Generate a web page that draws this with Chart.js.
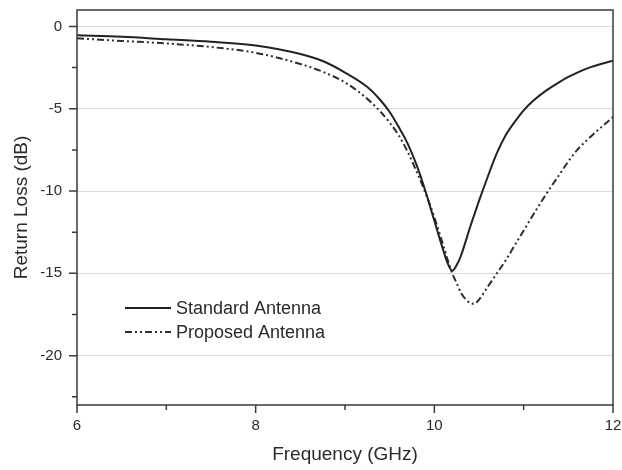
<!DOCTYPE html>
<html>
<head>
<meta charset="utf-8">
<script src="https://cdn.jsdelivr.net/npm/chart.js@4"></script>
<style>
  body { margin: 0; background: #fff; }
  #wrap { width: 622px; height: 470px; }
</style>
</head>
<body>
<div id="wrap"><canvas id="myChart" width="622" height="470"></canvas></div>
<script>
// frequency samples (GHz)
var freq = [6, 6.5, 7, 7.5, 8, 8.5, 8.75, 9, 9.25, 9.4, 9.5, 9.6, 9.7, 9.8, 9.9, 10, 10.1, 10.15, 10.2, 10.25,
            10.3, 10.4, 10.45, 10.5, 10.6, 10.7, 10.8, 10.9, 11, 11.1, 11.25, 11.4, 11.5, 11.6, 11.75, 12];
var standardLoss = [-0.54, -0.63, -0.78, -0.93, -1.15, -1.67, -2.1, -2.8, -3.68, -4.5, -5.2, -6.1, -7.1, -8.4, -10.0,
                    -11.8, -13.6, -14.4, -14.85, -14.5, -13.9, -12.2, -11.4, -10.6, -9.1, -7.7, -6.6, -5.8, -5.1,
                    -4.55, -3.9, -3.38, -3.07, -2.8, -2.47, -2.08];
var proposedLoss = [-0.72, -0.88, -1.03, -1.25, -1.6, -2.28, -2.75, -3.4, -4.4, -5.2, -5.85, -6.6, -7.6, -8.8, -10.1,
                    -11.6, -13.3, -14.2, -15.0, -15.6, -16.2, -16.8, -16.85, -16.6, -15.8, -15.0, -14.2, -13.3, -12.4,
                    -11.5, -10.2, -9.0, -8.2, -7.5, -6.7, -5.5];
var seriesNames = ['Standard Antenna', 'Proposed Antenna'];
var xTicks = [6, 8, 10, 12];
var xMinor = [7, 9, 11];
var yTicks = [0, -5, -10, -15, -20];
var yMinor = [-2.5, -7.5, -12.5, -17.5, -22.5];

function pts(ys) {
    return freq.map(function (f, i) { return {x: f, y: ys[i]}; });
}

var axisColor = '#3a3a3a';
var textColor = '#2a2a2a';
var fontFam = '"Liberation Sans", Arial, sans-serif';

// box round the plot, outward ticks, legend inside the plot
var framePlugin = {
    id: 'frame',
    afterDatasetsDraw: function (chart) {
        var ctx = chart.ctx;
        var a = chart.chartArea;
        var xs = chart.scales.x, ys = chart.scales.y;
        ctx.save();
        ctx.strokeStyle = axisColor;
        ctx.lineWidth = 1.5;
        ctx.strokeRect(a.left, a.top, a.right - a.left, a.bottom - a.top);
        ctx.beginPath();
        xTicks.forEach(function (v) {
            var px = xs.getPixelForValue(v);
            ctx.moveTo(px, a.bottom); ctx.lineTo(px, a.bottom + 8);
        });
        xMinor.forEach(function (v) {
            var px = xs.getPixelForValue(v);
            ctx.moveTo(px, a.bottom); ctx.lineTo(px, a.bottom + 5);
        });
        yTicks.forEach(function (v) {
            var py = ys.getPixelForValue(v);
            ctx.moveTo(a.left, py); ctx.lineTo(a.left - 8, py);
        });
        yMinor.forEach(function (v) {
            var py = ys.getPixelForValue(v);
            ctx.moveTo(a.left, py); ctx.lineTo(a.left - 5, py);
        });
        ctx.stroke();

        // legend
        var lx = 125, ly = 308;
        chart.data.datasets.forEach(function (ds, i) {
            var y = ly + i * 24;
            ctx.beginPath();
            ctx.strokeStyle = ds.borderColor;
            ctx.lineWidth = ds.borderWidth;
            ctx.setLineDash(ds.borderDash || []);
            ctx.moveTo(lx, y); ctx.lineTo(lx + 46, y);
            ctx.stroke();
            ctx.setLineDash([]);
            ctx.fillStyle = textColor;
            ctx.font = '18px ' + fontFam;
            ctx.textBaseline = 'middle';
            ctx.fillText(ds.label, lx + 51, y + 1);
        });
        ctx.restore();
    }
};

var ctx = document.getElementById('myChart').getContext('2d');
var myChart = new Chart(ctx, {
    type: 'line',
    data: {
        datasets: [{
            label: seriesNames[0],
            data: pts(standardLoss),
            borderColor: '#222222',
            borderWidth: 2,
            pointRadius: 0,
            fill: false,
            cubicInterpolationMode: 'monotone'
        }, {
            label: seriesNames[1],
            data: pts(proposedLoss),
            borderColor: '#2e2e2e',
            borderWidth: 2,
            borderDash: [7, 3, 2, 3, 2, 3],
            pointRadius: 0,
            fill: false,
            cubicInterpolationMode: 'monotone'
        }]
    },
    options: {
        responsive: false,
        animation: false,
        layout: { padding: { top: 10, right: 9, left: 0, bottom: 0 } },
        plugins: { legend: { display: false }, tooltip: { enabled: false } },
        scales: {
            x: {
                type: 'linear',
                min: 6,
                max: 12,
                afterBuildTicks: function (scale) { scale.ticks = xTicks.map(function (v) { return {value: v}; }); },
                afterFit: function (scale) { scale.height = 65; },
                // invisible tick marks just push the labels down
                grid: { display: true, drawOnChartArea: false, drawTicks: true, tickLength: 12, color: 'transparent', tickColor: 'transparent' },
                border: { display: false },
                ticks: {
                    color: textColor,
                    padding: 0,
                    maxRotation: 0,
                    font: { family: fontFam, size: 15 }
                },
                title: {
                    display: true,
                    text: 'Frequency (GHz)',
                    color: textColor,
                    padding: { top: 0, bottom: 4 },
                    font: { family: fontFam, size: 19 }
                }
            },
            y: {
                type: 'linear',
                min: -23,
                max: 1,
                afterBuildTicks: function (scale) { scale.ticks = yTicks.map(function (v) { return {value: v}; }); },
                afterFit: function (scale) { scale.width = 77; },
                grid: { display: true, drawTicks: true, tickLength: 15, color: '#dadada', tickColor: 'transparent', lineWidth: 1 },
                border: { display: false },
                ticks: {
                    color: textColor,
                    padding: 0,
                    font: { family: fontFam, size: 15 }
                },
                title: {
                    display: true,
                    text: 'Return Loss (dB)',
                    color: textColor,
                    padding: { top: 10, bottom: 0 },
                    font: { family: fontFam, size: 19 }
                }
            }
        }
    },
    plugins: [framePlugin]
});
</script>
</body>
</html>
